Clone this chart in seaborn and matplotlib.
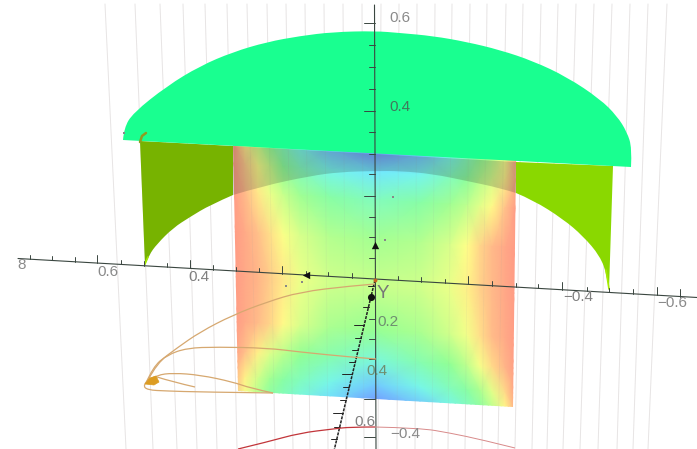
import numpy as np
import pandas as pd
import matplotlib
matplotlib.use("Agg")
import matplotlib.pyplot as plt
from matplotlib.colors import LinearSegmentedColormap
from matplotlib.patches import PathPatch, Polygon
from matplotlib.path import Path
import seaborn as sns

grid_top = [105, 135, 160, 183, 205, 227, 247, 267, 286, 305, 324, 343, 362,
            381, 399, 417, 435, 452, 470, 487, 506, 523, 541, 558, 576, 594, 612, 630, 648, 667]
grid_bottom = [126, 153, 177, 197, 217, 237, 257, 275, 293, 310, 328, 346, 364,
               378, 397, 415, 432, 448, 465, 482, 498, 515, 532, 547, 563, 580, 598, 617, 633, 648]

disk_x = [123, 124, 133, 167, 200, 233, 267, 300, 333, 375, 400, 433, 467, 500, 533, 567, 600, 617, 627, 632, 631]
disk_y = [140, 128, 113, 86, 66, 52, 42, 36, 32, 31, 33, 36, 42, 50, 61, 77, 99, 116, 132, 148, 167]

arc_x = [145, 149, 157, 173, 190, 210, 233, 263, 310, 340, 375, 400, 433, 467, 500, 516, 533, 563, 583, 600, 607, 609]
arc_y = [265, 255, 244, 228, 217, 205, 195, 186, 176, 172, 171, 171, 174, 181, 188, 193, 200, 219, 236, 256, 275, 290]

surf_cols = [233, 245, 258, 270, 283, 300, 330, 375, 420, 450, 467, 480, 492, 505, 516]
surf_rows = [150, 172, 200, 240, 285, 330, 360, 385, 405]
surf_vals = [
    [0, .22, .38, .50, .62, .75, .90, 1.0, .90, .75, .62, .50, .42, .28, .05],
    [0, .14, .26, .38, .50, .62, .75, .82, .75, .62, .52, .42, .34, .22, .04],
    [0, .09, .20, .30, .38, .46, .55, .62, .55, .46, .40, .32, .24, .12, 0],
    [0, .05, .11, .18, .26, .34, .42, .45, .42, .34, .25, .16, .09, .04, 0],
    [0, .04, .08, .14, .20, .29, .36, .38, .36, .30, .22, .15, .09, .04, 0],
    [0, .05, .10, .16, .24, .34, .44, .48, .44, .36, .28, .18, .10, .05, 0],
    [0, .11, .22, .33, .41, .49, .58, .70, .58, .49, .40, .27, .17, .08, 0],
    [.05, .22, .36, .46, .54, .62, .74, .88, .74, .62, .54, .44, .32, .17, 0],
    [.12, .28, .42, .55, .62, .72, .85, 1.0, .90, .75, .65, .55, .42, .25, .05],
]

hticks_x = [30, 52, 75, 97, 121, 144, 167, 190, 213, 236, 259, 282, 306, 328, 352,
            398, 421, 445, 468, 492, 516, 538, 562, 587, 609, 633, 657, 680]
hticks_major = [97, 190, 282, 468, 562, 657, 680]
vticks_y = [23, 45, 67, 89, 111, 132, 154, 174, 196, 217, 237, 258, 319, 339, 359, 399, 437]
vticks_major = [23, 111, 196, 399, 437]
oticks_y = [286, 307, 325, 338, 350, 362, 374, 387, 400, 413, 427, 439]
oticks_major = [325, 374, 413]

curves = {
    "a": ([375, 350, 300, 267, 233, 200, 177, 157, 148], [284, 286, 292, 302, 315, 332, 348, 363, 380]),
    "b": ([376, 350, 300, 267, 217, 187, 167, 153, 146], [359, 357, 352, 348, 347, 348, 355, 367, 383]),
    "c": ([273, 250, 233, 200, 173, 157, 148], [393, 388, 382, 375, 373, 375, 380]),
    "d": ([273, 200, 167, 147, 143, 148], [393, 392, 391, 390, 385, 380]),
    "e": ([195, 173, 157], [387, 382, 377]),
    "f": ([195, 157], [388, 388]),
    "g": ([177, 157], [348, 377]),
}
red_x = [238, 267, 300, 333, 350, 375]
red_y = [449, 442, 433, 429, 427, 427]
pink_x = [375, 420, 450, 483, 515]
pink_y = [427, 428, 433, 440, 448]
blob_x = [145, 150, 156, 159, 154]
blob_y = [384, 378, 376, 382, 385]

labels = [("8", 22, 265, "#8a8a8a"), ("0.6", 108, 272, "#8a8a8a"), ("0.4", 199, 277, "#808080"),
          ("\u22120.4", 578, 297, "#808080"), ("\u22120.6", 672, 303, "#8a8a8a"),
          ("0.6", 400, 18, "#8a8a8a"), ("0.4", 400, 107, "#3f7a5c"),
          ("0.2", 388, 322, "#6f8f70"), ("0.4", 377, 371, "#6f8f70"), ("0.6", 365, 422, "#808080"),
          ("\u22120.4", 405, 434, "#8a8a8a")]

sns.set_theme(style="white")
plt.rcParams["font.family"] = ["Liberation Sans", "DejaVu Sans"]

fig, ax = plt.subplots(figsize=(6.97, 4.49), dpi=100)
fig.subplots_adjust(0, 0, 1, 1)
ax.set_xlim(0, 697)
ax.set_ylim(449, 0)
ax.axis("off")


def axis_y(x):
    return 279 + 0.0574 * (np.asarray(x) - 375)


def oblique_x(y):
    return 375 - 0.24 * (np.asarray(y) - 280)


def smooth(xs, ys):
    # read points act as quadratic bezier controls so outlines are not jagged
    pts = np.column_stack([xs, ys]).astype(float)
    verts, codes = [pts[0]], [Path.LINETO]
    for i in range(1, len(pts) - 1):
        end = pts[-1] if i == len(pts) - 2 else (pts[i] + pts[i + 1]) / 2
        verts += [pts[i], end]
        codes += [Path.CURVE3, Path.CURVE3]
    return verts, codes


def draw_curve(xs, ys, **kw):
    verts, codes = smooth(xs, ys)
    codes[0] = Path.MOVETO
    ax.add_patch(PathPatch(Path(verts, codes), fill=False, **kw))


def fill_shape(corners, xs, ys, **kw):
    # straight corners first, then a smooth outline back to the start
    verts, codes = smooth(xs, ys)
    verts = [np.array(c, float) for c in corners] + verts + [verts[-1]]
    codes = [Path.MOVETO] + [Path.LINETO] * (len(corners) - 1) + codes + [Path.CLOSEPOLY]
    ax.add_patch(PathPatch(Path(verts, codes), lw=0, **kw))


grid = pd.DataFrame({
    "x": np.ravel(np.column_stack([grid_top, grid_bottom])),
    "y": np.tile([4, 449], len(grid_top)),
    "line": np.repeat(np.arange(len(grid_top)), 2),
})
sns.lineplot(data=grid, x="x", y="y", units="line", estimator=None, sort=False,
             color="#efecec", lw=0.7, ax=ax, zorder=1)

# curved surface with the rainbow texture
cmap = LinearSegmentedColormap.from_list("surf", [
    (0, "#ff9a85"), (0.12, "#ffc48a"), (0.25, "#ffff88"), (0.38, "#c8ff8c"),
    (0.5, "#8cff96"), (0.65, "#80fbc8"), (0.8, "#72f2ff"), (1, "#7290ff")])
X, Y = np.meshgrid(surf_cols, surf_rows)
Y = Y + 0.058 * (X - 375)
mesh = ax.pcolormesh(X, Y, np.array(surf_vals), cmap=cmap, vmin=0, vmax=1,
                     shading="gouraud", zorder=2)
mesh.set_clip_path(Polygon([(233, 140), (520, 155), (516, 162), (513, 407), (238, 391)],
                           transform=ax.transData))

# faint grid seen through the surface
sns.lineplot(data=grid, x="x", y="y", units="line", estimator=None, sort=False,
             color="#a0a0a0", lw=0.6, alpha=0.1, ax=ax, zorder=3)

# back part of the surface above the arc is darker
arc = np.column_stack([arc_x, arc_y])
band = arc[(arc[:, 0] >= 233) & (arc[:, 0] <= 516)]
left = arc[arc[:, 0] <= 233]
right = arc[arc[:, 0] >= 516]
fill_shape([(233, 146), (516, 162)], band[::-1, 0], band[::-1, 1], color="#202020", alpha=0.2, zorder=4)

# side walls
fill_shape([(140, 141), (233, 146)], left[::-1, 0], left[::-1, 1], color="#77b300", zorder=5)
fill_shape([(516, 162), (613, 166)], right[::-1, 0], right[::-1, 1], color="#8ad800", zorder=5)
sns.lineplot(x=[145, 148], y=[264, 257], sort=False, color="#a4ea00", lw=1.2, ax=ax, zorder=5)
sns.lineplot(x=[609, 606], y=[289, 270], sort=False, color="#a4ea00", lw=1.2, ax=ax, zorder=5)

# flat disk on top, the front edge is straight
fill_shape([(631, 167), (123, 140)], disk_x, disk_y, color="#19ff90", zorder=6)
sns.lineplot(x=[140, 142, 146], y=[142, 136, 133], sort=False, color="#8f9c22", lw=1.8, ax=ax, zorder=7)
sns.lineplot(x=[612, 612], y=[155, 166], sort=False, color="#a6d23e", lw=2.5, ax=ax, zorder=7)

# axes
ax_col = "#3a4640"
sns.lineplot(x=[18, 697], y=axis_y([18, 697]), sort=False, color=ax_col, lw=0.8, ax=ax, zorder=8)
sns.lineplot(x=[374.5, 376], y=[5, 449], sort=False, color=ax_col, lw=0.8, ax=ax, zorder=8)
sns.lineplot(x=oblique_x([280, 449]), y=[280, 449], sort=False, color="#222222", lw=1.1,
             linestyle=(0, (2, 0.7)), ax=ax, zorder=8)
for tx in hticks_x:
    h = 8 if tx in hticks_major else 4.5
    ax.plot([tx, tx], [axis_y(tx), axis_y(tx) - h], color=ax_col, lw=0.7, zorder=8)
for ty in vticks_y:
    w = 11 if ty in vticks_major else 6
    ax.plot([375 - w, 375], [ty, ty], color=ax_col, lw=0.7, zorder=8)
for ty in oticks_y:
    w = 10 if ty in oticks_major else 6
    ax.plot([oblique_x(ty) - w, oblique_x(ty)], [ty, ty], color="#222222", lw=0.7, zorder=8)

for name, (cx, cy) in curves.items():
    draw_curve(cx, cy, edgecolor="#d6a870", lw=0.9, zorder=9)
ax.fill(blob_x, blob_y, color="#dc9c22", lw=0.5, zorder=9)

draw_curve(red_x, red_y, edgecolor="#c2353a", lw=0.9, zorder=9)
draw_curve(pink_x, pink_y, edgecolor="#d88a8a", lw=0.7, zorder=9)

# axis arrows, origin dot and small specks
ax.scatter([306], [275], marker="<", s=28, color="#111111", zorder=10, lw=0)
ax.scatter([375], [245], marker="^", s=28, color="#111111", zorder=10, lw=0)
ax.scatter([371], [297], marker="o", s=26, color="#111111", zorder=10, lw=0)
ax.scatter([375], [280], marker="o", s=8, color="#c8641e", zorder=10, lw=0)
ax.scatter([286, 302, 393, 385, 124], [286, 282, 197, 240, 133], marker="s", s=2, color="#888888", zorder=10, lw=0)

for txt, x, y, col in labels:
    ax.text(x, y, txt, ha="center", va="center", color=col, fontsize=11, zorder=11)
ax.text(383, 293, "Y", ha="center", va="center", color="#777777", fontsize=13.5, zorder=11)

fig.savefig("out.png", dpi=100)
